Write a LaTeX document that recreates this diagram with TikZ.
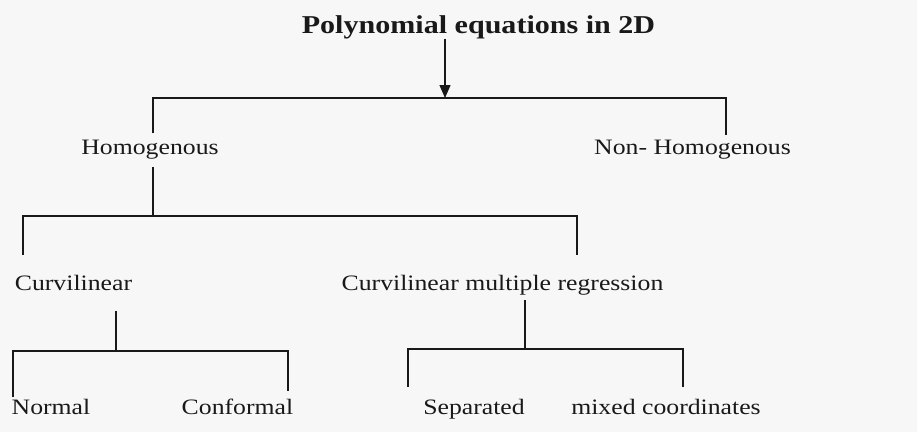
\documentclass[tikz,border=0pt]{standalone}
\usepackage{fontspec}
\setmainfont[FakeStretch=1.17]{Liberation Serif}
\usetikzlibrary{arrows.meta,positioning,backgrounds}
\definecolor{ink}{RGB}{25,25,25}
\definecolor{paper}{RGB}{247,247,247}
\tikzset{
  >={Triangle[length=13pt,width=11pt]},
  term/.style={anchor=base,inner sep=0pt,text=ink,font=\fontsize{22}{26}\selectfont},
  heading/.style={term,font=\fontsize{25.7}{30}\selectfont\bfseries},
  wire/.style={draw=ink,line width=1.2pt},
}

\begin{document}
\begin{tikzpicture}[x=1pt,y=-1pt]
  \fill[paper] (0,0) rectangle (917,432);
  \useasboundingbox (0,0) rectangle (917,432);
  % labels
  \node[heading] (poly) at (478.5,33) {Polynomial equations in 2D};
  \node[term] (hom) at (150,154) {Homogenous};
  \node[term] (nonhom) at (692.5,154) {Non- Homogenous};
  \node[term] (curv) at (73.5,290) {Curvilinear};
  \node[term] (cmr) at (502.5,290) {Curvilinear multiple regression};
  \node[term] (normal) at (51,414) {Normal};
  \node[term] (conf) at (237.5,414) {Conformal};
  \node[term] (sep) at (474,414) {Separated};
  \node[term] (mixed) at (666,414) {mixed coordinates};
  % bar corners
  \coordinate (b1) at (445,98);  \coordinate (b1l) at (153,98);  \coordinate (b1r) at (726,98);
  \coordinate (b2) at (153,216); \coordinate (b2l) at (23,216);  \coordinate (b2r) at (577,216);
  \coordinate (b3) at (116,351); \coordinate (b3l) at (13,351);  \coordinate (b3r) at (288,351);
  \coordinate (b4) at (525,349); \coordinate (b4l) at (408,349); \coordinate (b4r) at (683,349);
  % level 1
  \draw[wire,->] (poly.south -| b1) -- (b1);
  \draw[wire,shorten <=6pt,shorten >=4.5pt] (b1l |- hom.north) -- (b1l) -- (b1r) -- (b1r |- nonhom.north);
  % level 2
  \draw[wire,shorten <=8pt] (hom.south -| b2) -- (b2);
  \draw[wire,shorten <=20pt,shorten >=20pt] (b2l |- curv.north) -- (b2l) -- (b2r) -- (b2r |- cmr.north);
  % level 3
  \draw[wire,shorten <=21pt] (curv.south -| b3) -- (b3);
  \draw[wire,shorten <=1.5pt,shorten >=7pt] (b3l |- normal.north) -- (b3l) -- (b3r) -- (b3r |- conf.north);
  \draw[wire,shorten <=5pt] (cmr.south -| b4) -- (b4);
  \draw[wire,shorten <=12pt,shorten >=12pt] (b4l |- sep.north) -- (b4l) -- (b4r) -- (b4r |- mixed.north);
\end{tikzpicture}
\end{document}
